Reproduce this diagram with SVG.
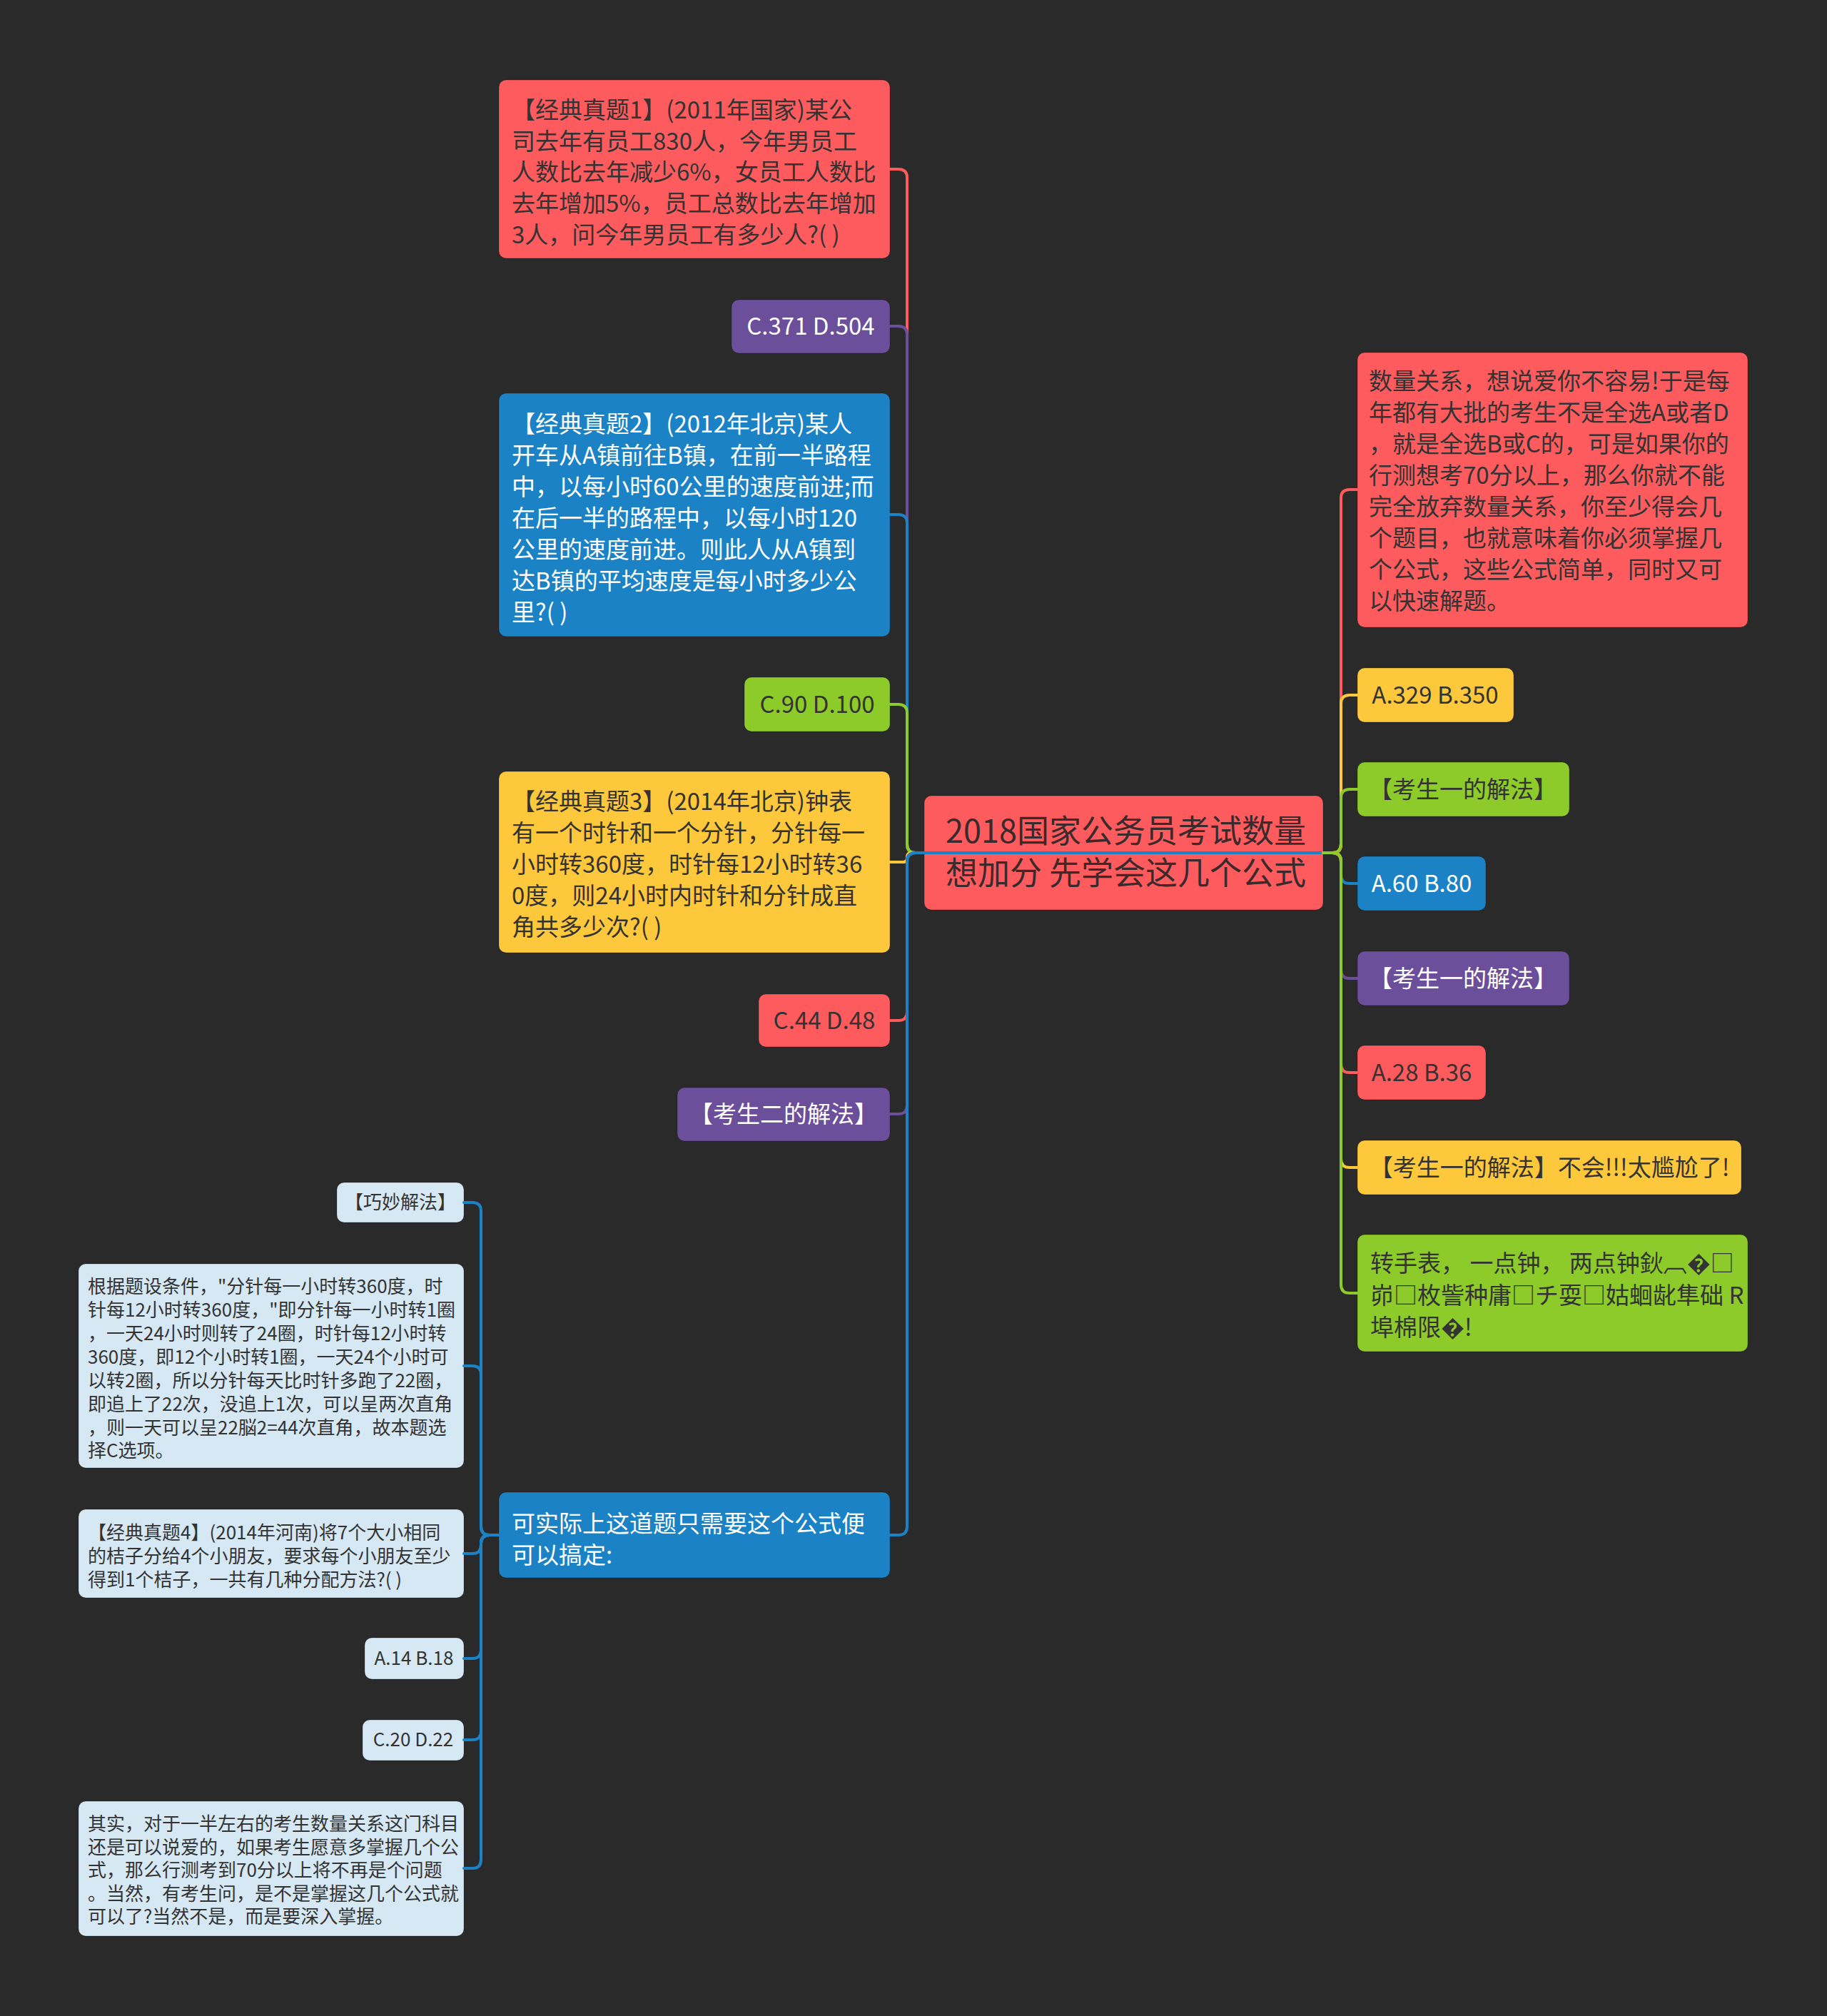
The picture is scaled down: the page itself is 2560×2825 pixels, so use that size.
<svg xmlns="http://www.w3.org/2000/svg" width="2560" height="2825" viewBox="0 0 2560 2825">
<style>
text{font-family:"Noto Sans CJK SC","Noto Sans",sans-serif}
.f33{font-size:33px}
.f26{font-size:26px}
.f45{font-size:45px}
.dk{fill:#333333}
.wt{fill:#ffffff}
.c{text-anchor:middle}
.box{stroke:rgba(0,0,0,0.25);stroke-width:1}
.red{fill:#fd5b5d}
.yel{fill:#fec83c}
.grn{fill:#8ccb2a}
.blu{fill:#1b82c6}
.pur{fill:#6b4f9a}
.lb{fill:#d5e8f4}
.ln{fill:none;stroke-width:4;stroke-linecap:round}
.lred{stroke:#fd5b5d}
.lyel{stroke:#fec83c}
.lgrn{stroke:#8ccb2a}
.lblu{stroke:#1b82c6}
.lpur{stroke:#6b4f9a}
</style>
<rect width="2560" height="2825" fill="#2a2a2a"/>

<g id="root">
<rect class="box red" x="1295" y="1115" width="559" height="160" rx="10"/>
<text class="f45" fill="#3a2a2c" x="1325" y="1181">2018国家公务员考试数量</text>
<text class="f45" fill="#3a2a2c" x="1325" y="1240">想加分 先学会这几个公式</text>
</g>

<g id="L1">
<rect class="box red" x="699" y="112" width="548" height="250" rx="10"/>
<g class="f33 dk">
<text x="717" y="166">【经典真题1】(2011年国家)某公</text>
<text x="717" y="210">司去年有员工830人，今年男员工</text>
<text x="717" y="253">人数比去年减少6%，女员工人数比</text>
<text x="717" y="297">去年增加5%，员工总数比去年增加</text>
<text x="717" y="341">3人，问今年男员工有多少人?( )</text>
</g>
</g>

<g id="L2">
<rect class="box pur" x="1025" y="420" width="222" height="75" rx="10"/>
<text class="f33 wt c" x="1136" y="469">C.371 D.504</text>
</g>

<g id="L3">
<rect class="box blu" x="699" y="551" width="548" height="341" rx="10"/>
<g class="f33 wt">
<text x="717" y="606">【经典真题2】(2012年北京)某人</text>
<text x="717" y="650">开车从A镇前往B镇，在前一半路程</text>
<text x="717" y="694">中，以每小时60公里的速度前进;而</text>
<text x="717" y="738">在后一半的路程中，以每小时120</text>
<text x="717" y="782">公里的速度前进。则此人从A镇到</text>
<text x="717" y="826">达B镇的平均速度是每小时多少公</text>
<text x="717" y="870">里?( )</text>
</g>
</g>

<g id="L4">
<rect class="box grn" x="1043" y="949" width="204" height="76" rx="10"/>
<text class="f33 dk c" x="1145" y="999">C.90 D.100</text>
</g>

<g id="L5">
<rect class="box yel" x="699" y="1081" width="548" height="254" rx="10"/>
<g class="f33 dk">
<text x="717" y="1135">【经典真题3】(2014年北京)钟表</text>
<text x="717" y="1179">有一个时针和一个分针，分针每一</text>
<text x="717" y="1223">小时转360度，时针每12小时转36</text>
<text x="717" y="1267">0度，则24小时内时针和分针成直</text>
<text x="717" y="1311">角共多少次?( )</text>
</g>
</g>

<g id="L6">
<rect class="box red" x="1063" y="1393" width="184" height="74" rx="10"/>
<text class="f33 dk c" x="1155" y="1442">C.44 D.48</text>
</g>

<g id="L7">
<rect class="box pur" x="949" y="1524" width="298" height="75" rx="10"/>
<text class="f33 wt c" x="1098" y="1573">【考生二的解法】</text>
</g>

<g id="L8">
<rect class="box blu" x="699" y="2091" width="548" height="120" rx="10"/>
<g class="f33 wt">
<text x="717" y="2147">可实际上这道题只需要这个公式便</text>
<text x="717" y="2191">可以搞定:</text>
</g>
</g>

<g id="S1">
<rect class="box lb" x="472" y="1657" width="178" height="56" rx="10"/>
<text class="f26 dk c" x="561" y="1694">【巧妙解法】</text>
</g>

<g id="S2">
<rect class="box lb" x="110" y="1771" width="540" height="286" rx="10"/>
<g class="f26 dk">
<text x="123" y="1812">根据题设条件，"分针每一小时转360度，时</text>
<text x="123" y="1845">针每12小时转360度，"即分针每一小时转1圈</text>
<text x="123" y="1878">，一天24小时则转了24圈，时针每12小时转</text>
<text x="123" y="1911">360度，即12个小时转1圈，一天24个小时可</text>
<text x="123" y="1944">以转2圈，所以分针每天比时针多跑了22圈，</text>
<text x="123" y="1977">即追上了22次，没追上1次，可以呈两次直角</text>
<text x="123" y="2010">，则一天可以呈22脳2=44次直角，故本题选</text>
<text x="123" y="2042">择C选项。</text>
</g>
</g>

<g id="S3">
<rect class="box lb" x="110" y="2115" width="540" height="124" rx="10"/>
<g class="f26 dk">
<text x="123" y="2157">【经典真题4】(2014年河南)将7个大小相同</text>
<text x="123" y="2190">的桔子分给4个小朋友，要求每个小朋友至少</text>
<text x="123" y="2223">得到1个桔子，一共有几种分配方法?( )</text>
</g>
</g>

<g id="S4">
<rect class="box lb" x="511" y="2295" width="139" height="58" rx="10"/>
<text class="f26 dk c" x="580" y="2333">A.14 B.18</text>
</g>

<g id="S5">
<rect class="box lb" x="508" y="2410" width="142" height="57" rx="10"/>
<text class="f26 dk c" x="579" y="2447">C.20 D.22</text>
</g>

<g id="S6">
<rect class="box lb" x="110" y="2524" width="540" height="189" rx="10"/>
<g class="f26 dk">
<text x="123" y="2565">其实，对于一半左右的考生数量关系这门科目</text>
<text x="123" y="2598">还是可以说爱的，如果考生愿意多掌握几个公</text>
<text x="123" y="2630">式，那么行测考到70分以上将不再是个问题</text>
<text x="123" y="2663">。当然，有考生问，是不是掌握这几个公式就</text>
<text x="123" y="2695">可以了?当然不是，而是要深入掌握。</text>
</g>
</g>

<g id="R1">
<rect class="box red" x="1902" y="494" width="547" height="385" rx="10"/>
<g class="f33 dk">
<text x="1918" y="546">数量关系，想说爱你不容易!于是每</text>
<text x="1918" y="590">年都有大批的考生不是全选A或者D</text>
<text x="1918" y="634">，就是全选B或C的，可是如果你的</text>
<text x="1918" y="678">行测想考70分以上，那么你就不能</text>
<text x="1918" y="722">完全放弃数量关系，你至少得会几</text>
<text x="1918" y="766">个题目，也就意味着你必须掌握几</text>
<text x="1918" y="810">个公式，这些公式简单，同时又可</text>
<text x="1918" y="854">以快速解题。</text>
</g>
</g>

<g id="R2">
<rect class="box yel" x="1902" y="936" width="219" height="76" rx="10"/>
<text class="f33 dk c" x="2011" y="986">A.329 B.350</text>
</g>

<g id="R3">
<rect class="box grn" x="1902" y="1068" width="297" height="76" rx="10"/>
<text class="f33 dk c" x="2050" y="1118">【考生一的解法】</text>
</g>

<g id="R4">
<rect class="box blu" x="1902" y="1200" width="180" height="76" rx="10"/>
<text class="f33 wt c" x="1992" y="1250">A.60 B.80</text>
</g>

<g id="R5">
<rect class="box pur" x="1902" y="1333" width="297" height="76" rx="10"/>
<text class="f33 wt c" x="2050" y="1383">【考生一的解法】</text>
</g>

<g id="R6">
<rect class="box red" x="1902" y="1465" width="180" height="76" rx="10"/>
<text class="f33 dk c" x="1992" y="1515">A.28 B.36</text>
</g>

<g id="R7">
<rect class="box yel" x="1902" y="1598" width="538" height="76" rx="10"/>
<text class="f33 dk c" x="2171" y="1648">【考生一的解法】不会!!!太尴尬了!</text>
</g>

<g id="R8">
<rect class="box grn" x="1902" y="1730" width="547" height="164" rx="10"/>
<g class="f33 dk">
<text x="1920" y="1782">转手表， 一点钟， 两点钟鈥︹�□</text>
<text x="1920" y="1827">峁□枚訾种庸□チ耍□姑蛔龀隼础 R</text>
<text x="1920" y="1872">埠棉限�!</text>
</g>
</g>

<g id="connectors">
<path class="ln lred" d="M1854 1195 H1283 Q1271 1195 1271 1183 V249 Q1271 237 1259 237 H1247"/>
<path class="ln lpur" d="M1854 1195 H1283 Q1271 1195 1271 1183 V469 Q1271 457 1259 457 H1247"/>
<path class="ln lblu" d="M1854 1195 H1283 Q1271 1195 1271 1183 V733 Q1271 721 1259 721 H1247"/>
<path class="ln lgrn" d="M1854 1195 H1283 Q1271 1195 1271 1183 V999 Q1271 987 1259 987 H1247"/>
<path class="ln lyel" d="M1854 1195 H1277 Q1271 1195 1271 1201 V1202 Q1271 1208 1265 1208 H1247"/>
<path class="ln lred" d="M1854 1195 H1283 Q1271 1195 1271 1207 V1418 Q1271 1430 1259 1430 H1247"/>
<path class="ln lpur" d="M1854 1195 H1283 Q1271 1195 1271 1207 V1549 Q1271 1561 1259 1561 H1247"/>
<path class="ln lblu" d="M1854 1195 H1283 Q1271 1195 1271 1207 V2139 Q1271 2151 1259 2151 H1247"/>

<path class="ln lred" d="M1854 1195 H1867 Q1879 1195 1879 1183 V698 Q1879 686 1891 686 H1902"/>
<path class="ln lyel" d="M1854 1195 H1867 Q1879 1195 1879 1183 V986 Q1879 974 1891 974 H1902"/>
<path class="ln lgrn" d="M1854 1195 H1867 Q1879 1195 1879 1183 V1118 Q1879 1106 1891 1106 H1902"/>
<path class="ln lblu" d="M1854 1195 H1867 Q1879 1195 1879 1207 V1226 Q1879 1238 1891 1238 H1902"/>
<path class="ln lpur" d="M1854 1195 H1867 Q1879 1195 1879 1207 V1359 Q1879 1371 1891 1371 H1902"/>
<path class="ln lred" d="M1854 1195 H1867 Q1879 1195 1879 1207 V1491 Q1879 1503 1891 1503 H1902"/>
<path class="ln lyel" d="M1854 1195 H1867 Q1879 1195 1879 1207 V1624 Q1879 1636 1891 1636 H1902"/>
<path class="ln lgrn" d="M1854 1195 H1867 Q1879 1195 1879 1207 V1800 Q1879 1812 1891 1812 H1902"/>

<path class="ln lblu" d="M699 2151 H686 Q674 2151 674 2139 V1697 Q674 1685 662 1685 H650"/>
<path class="ln lblu" d="M699 2151 H686 Q674 2151 674 2139 V1926 Q674 1914 662 1914 H650"/>
<path class="ln lblu" d="M699 2151 H686 Q674 2151 674 2163 V2165 Q674 2177 662 2177 H650"/>
<path class="ln lblu" d="M699 2151 H686 Q674 2151 674 2163 V2312 Q674 2324 662 2324 H650"/>
<path class="ln lblu" d="M699 2151 H686 Q674 2151 674 2163 V2426 Q674 2438 662 2438 H650"/>
<path class="ln lblu" d="M699 2151 H686 Q674 2151 674 2163 V2606 Q674 2618 662 2618 H650"/>
</g>
</svg>
